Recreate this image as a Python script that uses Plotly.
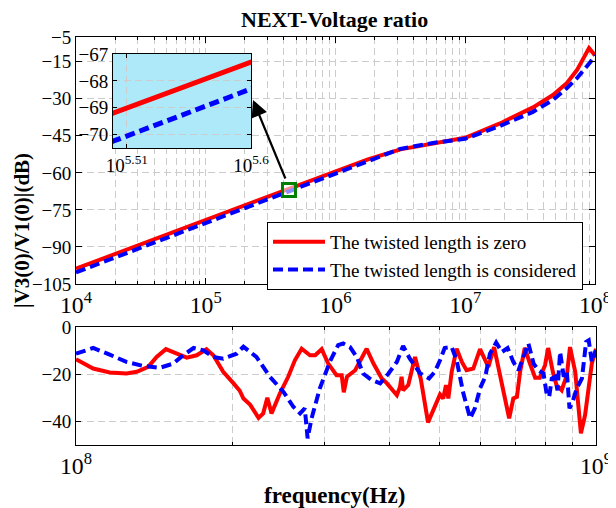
import plotly.graph_objects as go

# the page body has an 8px margin; the figure is sized to fill the rest of the 616x508 window
OFF = 8
W, H = 616 - OFF, 508 - OFF
FONT = "Liberation Serif, Times New Roman, serif"
GRID = "#cccccc"
GDASH = "7px,4px"

# ---------------- data: upper panel (10^4 .. 10^8 Hz) ----------------
main_freq = [1e4, 3.162e4, 1e5, 3.162e5, 3.981e5, 1e6, 1.778e6, 3.162e6, 5.623e6, 1e7,
             1.854e7, 3.327e7, 4.742e7, 6.081e7, 7.261e7, 7.943e7, 8.670e7, 8.995e7, 9.661e7, 1e8]
red_main = [-98.8, -88.9, -79.1, -69.2, -67.3, -59.5, -54.5, -50.5, -48.2, -45.8,
            -40.0, -33.5, -28.5, -23.6, -18.4, -14.5, -10.5, -9.5, -11.5, -12.5]
blue_main = [-100.3, -90.3, -80.3, -70.25, -68.3, -60.4, -55.0, -50.3, -47.9, -46.2,
             -41.0, -35.3, -30.5, -25.7, -21.7, -19.3, -16.8, -15.8, -13.8, -12.3]

# zoom marker on the curve
marker_freq = [4.38e5]
marker_db = [-66.9]

# inset tick exponents
inset_tick_exp = [5.51, 5.6]
inset_tick_text = ["10<sup>5.51</sup>", "10<sup>5.6</sup>"]

# ---------------- data: lower panel (10^8 .. 10^9 Hz) ----------------
red_lo_freq = [1.000e8, 1.079e8, 1.161e8, 1.250e8, 1.309e8, 1.377e8, 1.429e8, 1.489e8, 1.563e8, 1.633e8,
               1.706e8, 1.782e8, 1.837e8, 1.919e8, 2.009e8, 2.065e8, 2.099e8, 2.163e8, 2.244e8, 2.291e8,
               2.333e8, 2.377e8, 2.466e8, 2.559e8, 2.636e8, 2.716e8, 2.818e8, 2.884e8, 2.968e8, 3.055e8,
               3.170e8, 3.243e8, 3.273e8, 3.319e8, 3.443e8, 3.516e8, 3.622e8, 3.733e8, 3.873e8, 3.963e8,
               4.140e8, 4.198e8, 4.227e8, 4.256e8, 4.355e8, 4.487e8, 4.603e8, 4.753e8, 4.898e8, 5.012e8,
               5.082e8, 5.147e8, 5.200e8, 5.278e8, 5.395e8, 5.521e8, 5.636e8, 5.808e8, 5.984e8, 6.124e8,
               6.209e8, 6.368e8, 6.531e8, 6.683e8, 6.808e8, 6.934e8, 7.047e8, 7.145e8, 7.295e8, 7.464e8,
               7.638e8, 7.798e8, 7.980e8, 8.091e8, 8.260e8, 8.395e8, 8.590e8, 8.790e8, 8.913e8, 9.120e8,
               9.247e8, 9.354e8, 9.528e8, 9.661e8, 9.817e8, 1.000e9]
red_lo_db = [-13.7, -17.6, -19.3, -19.7, -19.0, -16.9, -12.7, -9.4, -11.3, -13.0,
             -12.0, -9.4, -12.0, -19.0, -23.9, -27.0, -30.3, -33.0, -38.5, -36.6,
             -30.0, -36.6, -28.2, -21.1, -14.1, -9.2, -12.0, -12.0, -9.4, -15.5,
             -20.4, -20.4, -27.7, -21.1, -18.3, -14.8, -9.2, -15.5, -21.8, -23.9,
             -28.9, -25.4, -21.1, -26.8, -24.6, -12.7, -22.0, -40.4, -33.1, -28.6,
             -30.3, -24.6, -30.3, -19.0, -9.2, -14.8, -18.3, -17.6, -9.4, -14.1,
             -16.9, -8.5, -20.4, -29.6, -38.7, -30.3, -29.6, -19.0, -8.9, -15.5,
             -21.5, -21.5, -16.2, -8.9, -19.0, -24.6, -26.8, -20.4, -8.5, -19.0,
             -33.1, -45.0, -37.3, -27.5, -15.5, -9.2]

blue_lo_freq = [1.000e8, 1.079e8, 1.161e8, 1.250e8, 1.346e8, 1.449e8, 1.538e8, 1.607e8, 1.683e8, 1.758e8,
                1.837e8, 1.919e8, 2.037e8, 2.099e8, 2.223e8, 2.360e8, 2.506e8, 2.618e8, 2.698e8, 2.754e8,
                2.789e8, 2.838e8, 2.944e8, 3.076e8, 3.192e8, 3.266e8, 3.365e8, 3.467e8, 3.565e8, 3.707e8,
                3.846e8, 3.990e8, 4.140e8, 4.256e8, 4.385e8, 4.592e8, 4.775e8, 4.898e8, 5.012e8, 5.117e8,
                5.278e8, 5.395e8, 5.559e8, 5.728e8, 5.848e8, 5.984e8, 6.124e8, 6.252e8, 6.427e8, 6.592e8,
                6.761e8, 6.934e8, 7.096e8, 7.244e8, 7.413e8, 7.586e8, 7.745e8, 7.925e8, 8.035e8, 8.128e8,
                8.222e8, 8.337e8, 8.433e8, 8.531e8, 8.670e8, 8.790e8, 8.892e8, 9.016e8, 9.183e8, 9.397e8,
                9.572e8, 9.683e8, 9.817e8, 1.000e9]
blue_lo_db = [-11.3, -8.9, -11.7, -14.8, -16.5, -17.3, -15.5, -12.0, -8.9, -9.9,
              -12.7, -13.4, -11.3, -8.3, -12.7, -21.1, -27.5, -33.8, -36.6, -34.5,
              -47.2, -38.7, -26.0, -14.8, -7.7, -7.0, -8.5, -12.7, -19.7, -22.5,
              -23.9, -19.7, -14.8, -8.0, -13.4, -19.7, -21.8, -19.0, -14.1, -8.9,
              -8.5, -14.1, -28.2, -38.7, -34.5, -26.0, -21.1, -11.3, -6.6, -10.6,
              -8.9, -14.8, -18.3, -13.4, -7.0, -15.5, -18.3, -19.7, -28.2, -29.6,
              -21.8, -21.1, -26.8, -10.6, -21.1, -19.0, -34.5, -31.7, -26.0, -21.8,
              -6.3, -5.6, -14.8, -9.9]

main_yticks = [-5, -15, -30, -45, -60, -75, -90, -105]
lo_yticks = [0, -20, -40]
inset_yticks = [-67, -68, -69, -70]

RED = "#ff0000"
BLUE = "#0000ff"
DASH = "10px,5px"

fig = go.Figure()

# upper panel
fig.add_trace(go.Scatter(x=main_freq, y=red_main, mode="lines", name="The twisted length is zero",
                         line=dict(color=RED, width=4), xaxis="x", yaxis="y"))
fig.add_trace(go.Scatter(x=main_freq, y=blue_main, mode="lines", name="The twisted length is considered",
                         line=dict(color=BLUE, width=4, dash=DASH), xaxis="x", yaxis="y"))
fig.add_trace(go.Scatter(x=marker_freq, y=marker_db, mode="markers", showlegend=False,
                         marker=dict(symbol="square", size=13, color="rgba(255,255,255,0.55)",
                                     line=dict(color="#008000", width=3)),
                         xaxis="x", yaxis="y"))
# lower panel
fig.add_trace(go.Scatter(x=red_lo_freq, y=red_lo_db, mode="lines", showlegend=False,
                         line=dict(color=RED, width=4), xaxis="x2", yaxis="y2"))
fig.add_trace(go.Scatter(x=blue_lo_freq, y=blue_lo_db, mode="lines", showlegend=False,
                         line=dict(color=BLUE, width=4, dash=DASH), xaxis="x2", yaxis="y2"))
# inset
fig.add_trace(go.Scatter(x=main_freq, y=red_main, mode="lines", showlegend=False,
                         line=dict(color=RED, width=5), xaxis="x3", yaxis="y3"))
fig.add_trace(go.Scatter(x=main_freq, y=blue_main, mode="lines", showlegend=False,
                         line=dict(color=BLUE, width=5, dash=DASH), xaxis="x3", yaxis="y3"))

def px_x(p):
    return (p - OFF) / W

def px_y(p):
    return 1 - (p - OFF) / H

tickfont = dict(family=FONT, size=19, color="black")
common = dict(showline=True, linecolor="black", linewidth=1, mirror="ticks", ticks="inside",
              tickcolor="black", zeroline=False, showgrid=True, gridcolor=GRID, griddash=GDASH,
              gridwidth=1, tickfont=tickfont, automargin=False)
logminor = dict(dtick="D1", ticks="inside", ticklen=3, tickcolor="black", showgrid=True,
                gridcolor=GRID, griddash=GDASH, gridwidth=1)

fig.update_layout(
    width=W, height=H,
    margin=dict(l=0, r=0, t=0, b=0, autoexpand=False),
    paper_bgcolor="white", plot_bgcolor="white",
    font=dict(family=FONT, color="black"),
    xaxis=dict(domain=[px_x(76), px_x(595)], anchor="y", type="log", range=[4, 8], dtick=1,
               exponentformat="power", ticklen=6, minor=logminor, **common),
    yaxis=dict(domain=[px_y(284), px_y(37)], anchor="x", range=[-105, -5], tickmode="array",
               tickvals=main_yticks, ticklen=6, **common),
    xaxis2=dict(domain=[px_x(76), px_x(596)], anchor="y2", type="log", range=[8, 9], dtick=1,
                exponentformat="power", ticklen=6, minor=logminor, **common),
    yaxis2=dict(domain=[px_y(445), px_y(327)], anchor="x2", range=[-50, 0], tickmode="array",
                tickvals=lo_yticks, ticklen=5, **common),
    xaxis3=dict(domain=[px_x(113), px_x(251)], anchor="y3", type="log", range=[5.5, 5.6],
                tickmode="array", tickvals=[10 ** e for e in inset_tick_exp], ticktext=inset_tick_text,
                ticklen=4, **common),
    yaxis3=dict(domain=[px_y(148), px_y(54)], anchor="x3", range=[-70.5, -67], tickmode="array",
                tickvals=inset_yticks, ticklen=4, **common),
    showlegend=True,
    legend=dict(x=px_x(267), y=px_y(222), xanchor="left", yanchor="top",
                bgcolor="white", bordercolor="black", borderwidth=1,
                font=dict(family=FONT, size=19, color="black"),
                tracegroupgap=0, itemwidth=52),
)

# cyan inset background (drawn inside the inset subplot, clipped to it)
fig.add_shape(type="rect", xref="x3", yref="y3", x0=1, x1=1e12, y0=-100, y1=0,
              fillcolor="#ADE9F9", line=dict(width=0), layer="below")

fig.add_annotation(x=px_x(253), y=px_y(100), xref="paper", yref="paper", text="",
                   showarrow=True, ax=33, ay=80, arrowhead=2, arrowsize=1.5, arrowwidth=2.2,
                   arrowcolor="black")
fig.add_annotation(x=px_x(334), y=px_y(19), xref="paper", yref="paper",
                   text="<b>NEXT-Voltage ratio</b>", showarrow=False,
                   font=dict(family=FONT, size=22, color="black"), xanchor="center", yanchor="middle")
fig.add_annotation(x=px_x(22), y=px_y(231), xref="paper", yref="paper",
                   text="<b>|V3(0)/V1(0)|(dB)</b>", showarrow=False, textangle=-90,
                   font=dict(family=FONT, size=21, color="black"), xanchor="center", yanchor="middle")
fig.add_annotation(x=px_x(334), y=px_y(495), xref="paper", yref="paper",
                   text="<b>frequency(Hz)</b>", showarrow=False,
                   font=dict(family=FONT, size=23, color="black"), xanchor="center", yanchor="middle")

fig.write_html("out.html")
